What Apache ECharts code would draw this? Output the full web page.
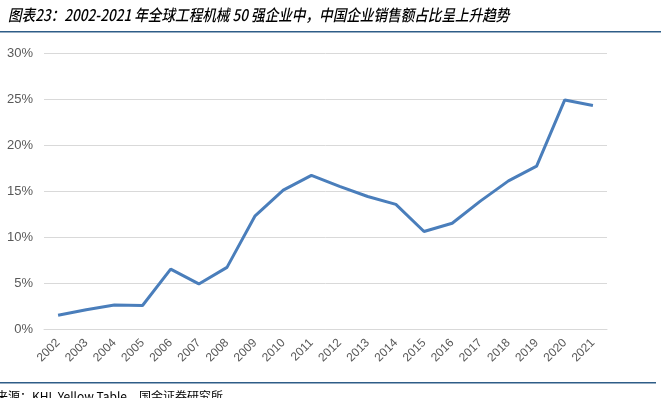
<!DOCTYPE html>
<html>
<head>
<meta charset="utf-8">
<script src="https://cdn.jsdelivr.net/npm/echarts@6/dist/echarts.min.js"></script>
<style>
html,body{margin:0;padding:0;background:#fff;}
#main{width:661px;height:398px;}
</style>
</head>
<body>
<div id="main"></div>
<script>
// 年份
var years = ['2002','2003','2004','2005','2006','2007','2008','2009','2010','2011',
             '2012','2013','2014','2015','2016','2017','2018','2019','2020','2021'];
// 中国企业销售额占比（%）
var shareCN = [1.5, 2.1, 2.6, 2.55, 6.5, 4.9, 6.7, 12.3, 15.1, 16.7,
               15.5, 14.4, 13.55, 10.6, 11.5, 13.9, 16.1, 17.7, 24.9, 24.3];
// y轴刻度
var yMin = 0, yMax = 30, yStep = 5;

var myChart = echarts.init(document.getElementById('main'));

var option = {
    animation: false,
    backgroundColor: '#fff',
    grid: {
        left: 44,
        right: 54,
        top: 53,
        bottom: 69
    },
    xAxis: {
        type: 'category',
        data: years,
        boundaryGap: true,
        axisLine: { show: true, lineStyle: { color: '#d9d9d9', width: 1 } },
        axisTick: { show: false },
        axisLabel: {
            rotate: 45,
            color: '#595959',
            fontSize: 12,
            fontFamily: 'Liberation Sans, Arial',
            margin: 12,
            interval: 0
        }
    },
    yAxis: {
        type: 'value',
        min: yMin,
        max: yMax,
        interval: yStep,
        axisLine: { show: false },
        axisTick: { show: false },
        splitLine: { lineStyle: { color: '#d9d9d9', width: 1 } },
        axisLabel: {
            formatter: '{value}%',
            color: '#595959',
            fontSize: 13,
            fontFamily: 'Liberation Sans, Arial',
            margin: 11
        }
    },
    series: [{
        type: 'line',
        data: shareCN,
        symbol: 'none',
        lineStyle: { color: '#4a7ebb', width: 3 }
    }],
    graphic: [
        {
            type: 'text',
            x: 8,
            y: 7,
            scaleX: 0.85,
            style: {
                text: '图表23：2002-2021 年全球工程机械 50 强企业中，中国企业销售额占比呈上升趋势',
                font: 'italic 500 16px "Noto Sans CJK SC", sans-serif',
                fill: '#000'
            }
        },
        {
            type: 'rect',
            shape: { x: 0, y: 31, width: 661, height: 1.5 },
            style: { fill: '#2e5d87' }
        },
        {
            type: 'rect',
            shape: { x: 0, y: 382, width: 656, height: 1.5 },
            style: { fill: '#2e5d87' }
        },
        {
            type: 'text',
            x: -4,
            y: 390,
            style: {
                text: '来源：KHL Yellow Table，国金证券研究所',
                font: '12px "Noto Sans CJK SC", sans-serif',
                fill: '#000'
            }
        }
    ]
};

myChart.setOption(option);
</script>
</body>
</html>
